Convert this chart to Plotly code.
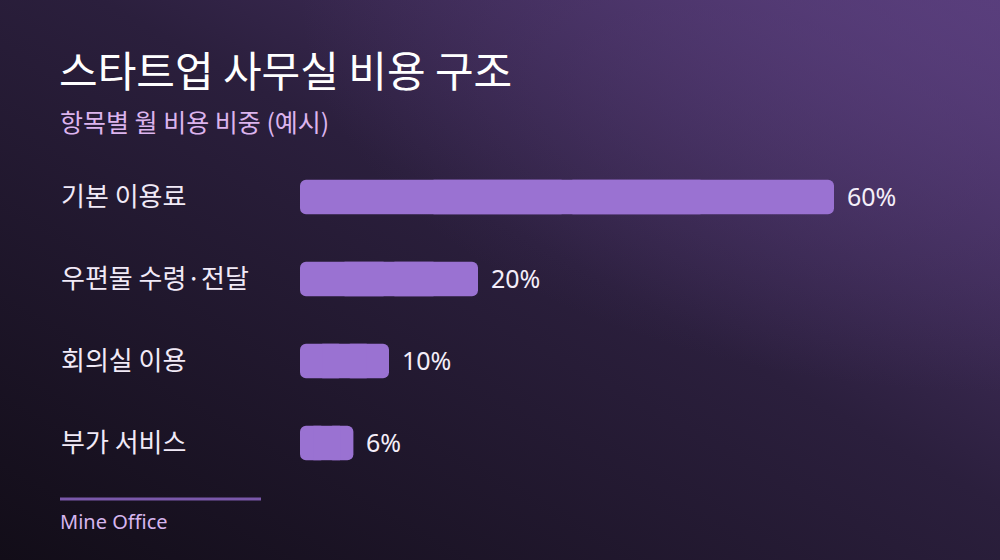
import base64
import plotly.graph_objects as go

categories = ["기본 이용료", "우편물 수령·전달", "회의실 이용", "부가 서비스"]
shares = [60, 20, 10, 6]
value_labels = ["60%", "20%", "10%", "6%"]

title = "스타트업 사무실 비용 구조"
subtitle = "항목별 월 비용 비중 (예시)"
footer = "Mine Office"

FONT = "Noto Sans CJK KR"
LATIN = "Noto Sans"
BAR = "#9a72d2"
W, H = 1000, 560
PLOT_L, PLOT_R = 300, 923
PLOT_T, PLOT_B = 156, 484


def px_x(px):
    return (px - PLOT_L) / (PLOT_R - PLOT_L)


def px_y(px):
    return (PLOT_B - px) / (PLOT_B - PLOT_T)


# background gradient as svg image
svg = f"""<svg xmlns='http://www.w3.org/2000/svg' width='{W}' height='{H}'>
<defs>
<linearGradient id='g' x1='1' y1='0' x2='0' y2='1'>
<stop offset='0' stop-color='#573c79'/>
<stop offset='0.45' stop-color='#2b1f3d'/>
<stop offset='1' stop-color='#120d18'/>
</linearGradient>
<radialGradient id='r' cx='1' cy='0' r='0.7'>
<stop offset='0' stop-color='#5a3f7e' stop-opacity='0.7'/>
<stop offset='1' stop-color='#5a3f7e' stop-opacity='0'/>
</radialGradient>
</defs>
<rect width='{W}' height='{H}' fill='url(#g)'/>
<rect width='{W}' height='{H}' fill='url(#r)'/>
</svg>"""
bg_src = "data:image/svg+xml;base64," + base64.b64encode(svg.encode()).decode()

# each bar = two rounded halves from its midpoint, plus a square middle piece to hide the seam
half = [v / 2 for v in shares]
bar_style = dict(orientation="h", width=0.42, hoverinfo="skip")
fig = go.Figure()
fig.add_trace(go.Bar(x=half, base=half, y=categories,
                     marker=dict(color=BAR, line=dict(width=0), cornerradius=6), **bar_style))
fig.add_trace(go.Bar(x=[-h for h in half], base=half, y=categories,
                     marker=dict(color=BAR, line=dict(width=0), cornerradius=6), **bar_style))
fig.add_trace(go.Bar(x=half, base=[v / 4 for v in shares], y=categories,
                     marker=dict(color=BAR, line=dict(width=0), cornerradius=0), **bar_style))

annotations = []
for cat, val, lab in zip(categories, shares, value_labels):
    annotations.append(dict(
        x=px_x(59), xref="paper", y=cat, yref="y", text=cat, showarrow=False, yshift=3,
        xanchor="left", yanchor="middle", font=dict(family=FONT, size=26, color="#f1eaf7"),
    ))
    annotations.append(dict(
        x=val, xref="x", y=cat, yref="y", text=lab, showarrow=False, yshift=1,
        xanchor="left", yanchor="middle", xshift=11, font=dict(family=LATIN, size=25, color="#f4eef9"),
    ))

annotations += [
    dict(x=px_x(57), xref="paper", y=px_y(68), yref="paper", text=title, showarrow=False,
         xanchor="left", yanchor="middle", font=dict(family=FONT, size=42, color="#ffffff")),
    dict(x=px_x(58), xref="paper", y=px_y(121), yref="paper", text=subtitle, showarrow=False,
         xanchor="left", yanchor="middle", font=dict(family=FONT, size=25, color="#dcb4ee")),
    dict(x=px_x(58), xref="paper", y=px_y(521), yref="paper", text=footer, showarrow=False,
         xanchor="left", yanchor="middle", font=dict(family=LATIN, size=20, color="#d6b6ee")),
]

fig.update_layout(
    width=W, height=H,
    margin=dict(l=PLOT_L, r=W - PLOT_R, t=PLOT_T, b=H - PLOT_B, pad=0),
    paper_bgcolor="#1d1528",
    plot_bgcolor="rgba(0,0,0,0)",
    barmode="overlay",
    showlegend=False,
    xaxis=dict(range=[0, 70], visible=False, fixedrange=True),
    yaxis=dict(categoryorder="array", categoryarray=categories, autorange="reversed",
               visible=False, fixedrange=True),
    annotations=annotations,
    shapes=[dict(type="line", xref="paper", yref="paper", x0=px_x(60), x1=px_x(261),
                 y0=px_y(499), y1=px_y(499), line=dict(color="#7a58aa", width=3))],
    images=[dict(source=bg_src, xref="paper", yref="paper", x=px_x(0), y=px_y(0),
                 sizex=px_x(W) - px_x(0), sizey=px_y(0) - px_y(H), sizing="stretch",
                 xanchor="left", yanchor="top", layer="below")],
)

fig.write_html("out.html", config={"displayModeBar": False},
               post_script="document.body.style.margin = '0';")
